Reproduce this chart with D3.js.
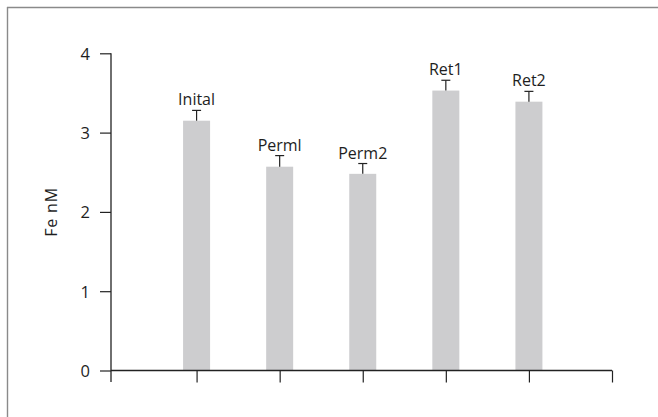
<!DOCTYPE html>
<html><head><meta charset="utf-8">
<script src="https://cdn.jsdelivr.net/npm/d3@7"></script>
<style>
html,body{margin:0;padding:0;background:#fff;}
svg{display:block;}
text{font-family:"Open Sans",sans-serif;fill:#1e1e1e;}
</style></head>
<body>
<svg id="c" width="658" height="417"></svg>
<script>
const categories = ["Inital","Perml","Perm2","Ret1","Ret2"];
const values = [3.15, 2.57, 2.48, 3.53, 3.39];
const errors = [0.13, 0.14, 0.13, 0.13, 0.13];
const yTicks = [0,1,2,3,4];
const yLabel = "Fe nM";

const svg = d3.select("#c");
// frame (top and left edges)
svg.append("line").attr("x1",7).attr("y1",7.5).attr("x2",658).attr("y2",7.5).attr("stroke","#8a8a8a").attr("stroke-width",1.4);
svg.append("line").attr("x1",7.5).attr("y1",7).attr("x2",7.5).attr("y2",417).attr("stroke","#8a8a8a").attr("stroke-width",1.4);

const x0 = 111, xEnd = 612;
const x = d3.scaleLinear().domain([0,6]).range([113.5,612]);
const y = d3.scaleLinear().domain([0,4]).range([370.5,53.3]);

// bars
const bw = 27;
svg.selectAll("rect.bar").data(values).enter().append("rect")
  .attr("x",(d,i)=>x(i+1)-bw/2).attr("width",bw)
  .attr("y",d=>y(d)).attr("height",d=>y(0)-y(d))
  .attr("fill","#cdcdcf");

// error bars
const eg = svg.append("g").attr("stroke","#222").attr("stroke-width",1.2);
values.forEach((v,i)=>{
  const cx = x(i+1);
  eg.append("line").attr("x1",cx).attr("x2",cx).attr("y1",y(v)).attr("y2",y(v+errors[i]));
  eg.append("line").attr("x1",cx-4.5).attr("x2",cx+4.5).attr("y1",y(v+errors[i])).attr("y2",y(v+errors[i]));
});

// bar labels
svg.selectAll("text.lab").data(categories).enter().append("text")
  .attr("x",(d,i)=>x(i+1)).attr("y",(d,i)=>y(values[i]+errors[i])-5)
  .attr("text-anchor","middle").attr("font-size","16px").text(d=>d);

// y axis
const yAxis = d3.axisLeft(y).tickValues(yTicks).tickSize(11).tickSizeOuter(0).tickPadding(10).tickFormat(d3.format("d"));
const gy = svg.append("g").attr("transform",`translate(${x0},0)`).call(yAxis);
gy.select(".domain").attr("d",`M0,${y(4)}V382`).attr("stroke","#222").attr("stroke-width",1.3);
gy.selectAll(".tick line").attr("stroke","#222").attr("stroke-width",1.2);
gy.selectAll(".tick text").attr("font-size","16.5px").attr("font-family","Open Sans").attr("fill","#1e1e1e").attr("dy","0.36em");

// x axis
const xAxis = d3.axisBottom(x).tickValues([1,2,3,4,5,6]).tickSize(12).tickSizeOuter(0).tickFormat("");
const gx = svg.append("g").attr("transform",`translate(0,${y(0)})`).call(xAxis);
gx.select(".domain").attr("d",`M${x0},0H${xEnd}`).attr("stroke","#222").attr("stroke-width",1.3);
gx.selectAll(".tick line").attr("stroke","#222").attr("stroke-width",1.2);

// y label
svg.append("text").attr("transform",`translate(57,${(y(0)+y(4))/2}) rotate(-90)`)
  .attr("text-anchor","middle").attr("font-size","16px").attr("letter-spacing","0.8px").text(yLabel);
</script>
</body></html>
